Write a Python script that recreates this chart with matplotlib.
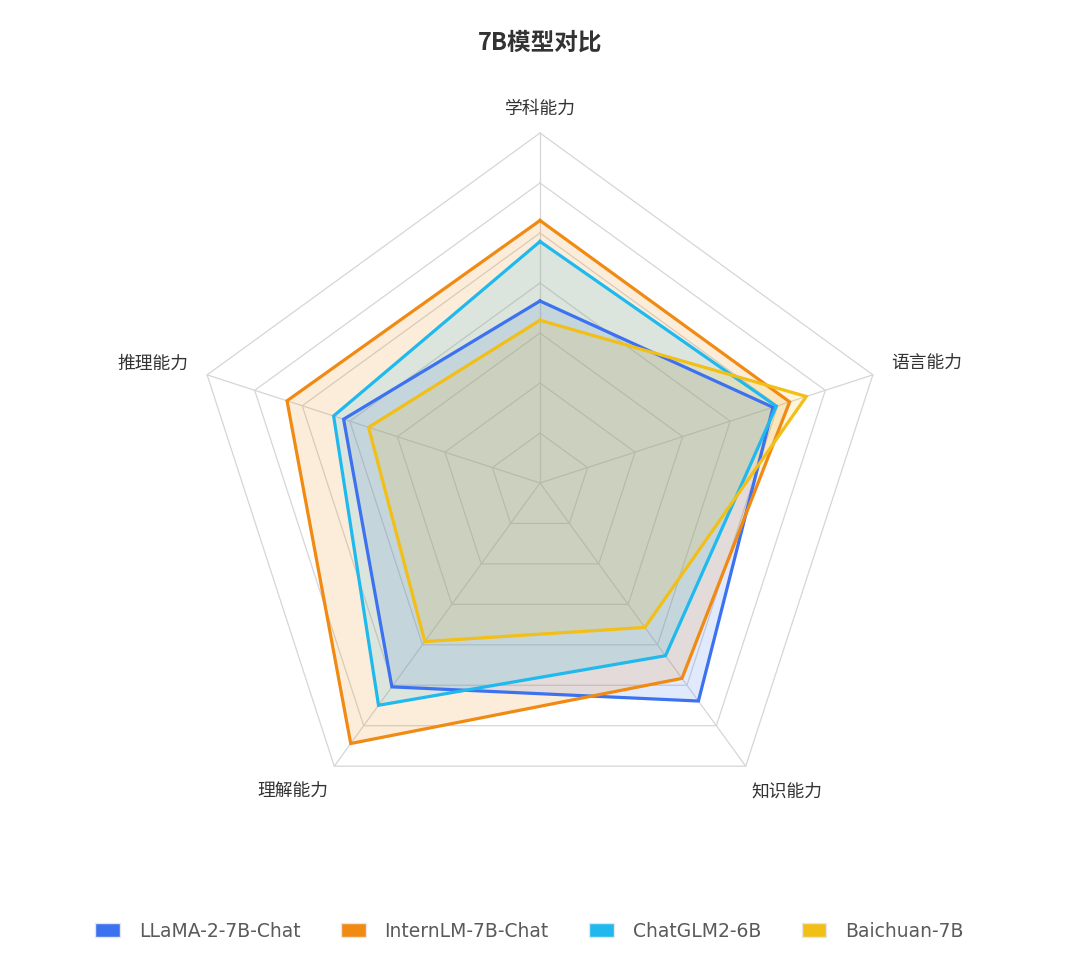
import matplotlib.pyplot as plt
import numpy as np
from matplotlib.patches import Patch

plt.rcParams['font.family'] = ['Noto Sans CJK SC', 'DejaVu Sans']

# eixos do radar (sentido horario a partir do topo)
dimensoes = ['学科能力', '语言能力', '知识能力', '理解能力', '推理能力']

# notas (escala 0-100)
llama = [52, 70, 77, 72, 59]
internlm = [75, 75, 69, 92, 76]
chatglm = [69, 71, 61, 78.5, 62]
baichuan = [46.5, 80, 51, 56, 51.5]

modelos = ['LLaMA-2-7B-Chat', 'InternLM-7B-Chat', 'ChatGLM2-6B', 'Baichuan-7B']
cores = ['#3C72F0', '#F08A12', '#1FB9EE', '#F2BF17']
series = [llama, internlm, chatglm, baichuan]
valor_max = 100
n_aneis = 7

W, H = 1080, 979
R = 350.0
cx, cy = 540, 484

fig = plt.figure(figsize=(W / 100, H / 100), dpi=100)
ax = fig.add_axes([0, 0, 1, 1])
ax.set_xlim(-cx / R, (W - cx) / R)
ax.set_ylim(-(H - cy) / R, cy / R)
ax.axis('off')

n = len(dimensoes)
ang = np.deg2rad(90 - 72 * np.arange(n))
ux, uy = np.cos(ang), np.sin(ang)

# grade pentagonal
for k in range(1, n_aneis + 1):
    r = k / n_aneis
    ax.plot(np.append(ux, ux[0]) * r, np.append(uy, uy[0]) * r,
            color='#d6d6d6', lw=0.9, zorder=1)
for i in range(n):
    ax.plot([0, ux[i]], [0, uy[i]], color='#d6d6d6', lw=0.9, zorder=1)

# series
for nome, vals, cor in zip(modelos, series, cores):
    r = np.array(vals) / valor_max
    xs = np.append(ux * r, ux[0] * r[0])
    ys = np.append(uy * r, uy[0] * r[0])
    ax.fill(xs, ys, color=cor, alpha=0.15, lw=0, zorder=2)
    ax.plot(xs, ys, color=cor, lw=2.3, zorder=3, solid_joinstyle='miter')

# nomes dos eixos
rl = 1.05
for i, nome in enumerate(dimensoes):
    c, s = ux[i], uy[i]
    ha = 'center' if abs(c) < 0.01 else ('left' if c > 0 else 'right')
    if s > 0.9:
        va = 'bottom'
    elif s < -0.5:
        va = 'top'
    else:
        va = 'center'
    dx = 0 if abs(c) < 0.01 else (-0.012 if s < -0.5 else 0.005) * np.sign(c)
    ax.text(c * rl + dx, s * rl + (0.02 if va == 'center' else -0.005), nome, ha=ha, va=va,
            fontsize=12.8, color='#333333')

fig.text(0.5, 1 - 43 / H, '7B模型对比', ha='center', va='center',
         fontsize=17, fontweight='bold', color='#333333')

handles = [Patch(facecolor=c, edgecolor='#e6e6e6', lw=1.0) for c in cores]
fig.legend(handles, modelos, loc='center', bbox_to_anchor=(529.5 / W, 1 - 932 / H),
           ncol=4, frameon=False, labelcolor='#5a5a5a',
           prop={'family': 'DejaVu Sans', 'size': 13.5},
           handlelength=1.33, handleheight=0.7, handletextpad=1.0, columnspacing=2.15)

fig.savefig('out.png', dpi=100, facecolor='white')
